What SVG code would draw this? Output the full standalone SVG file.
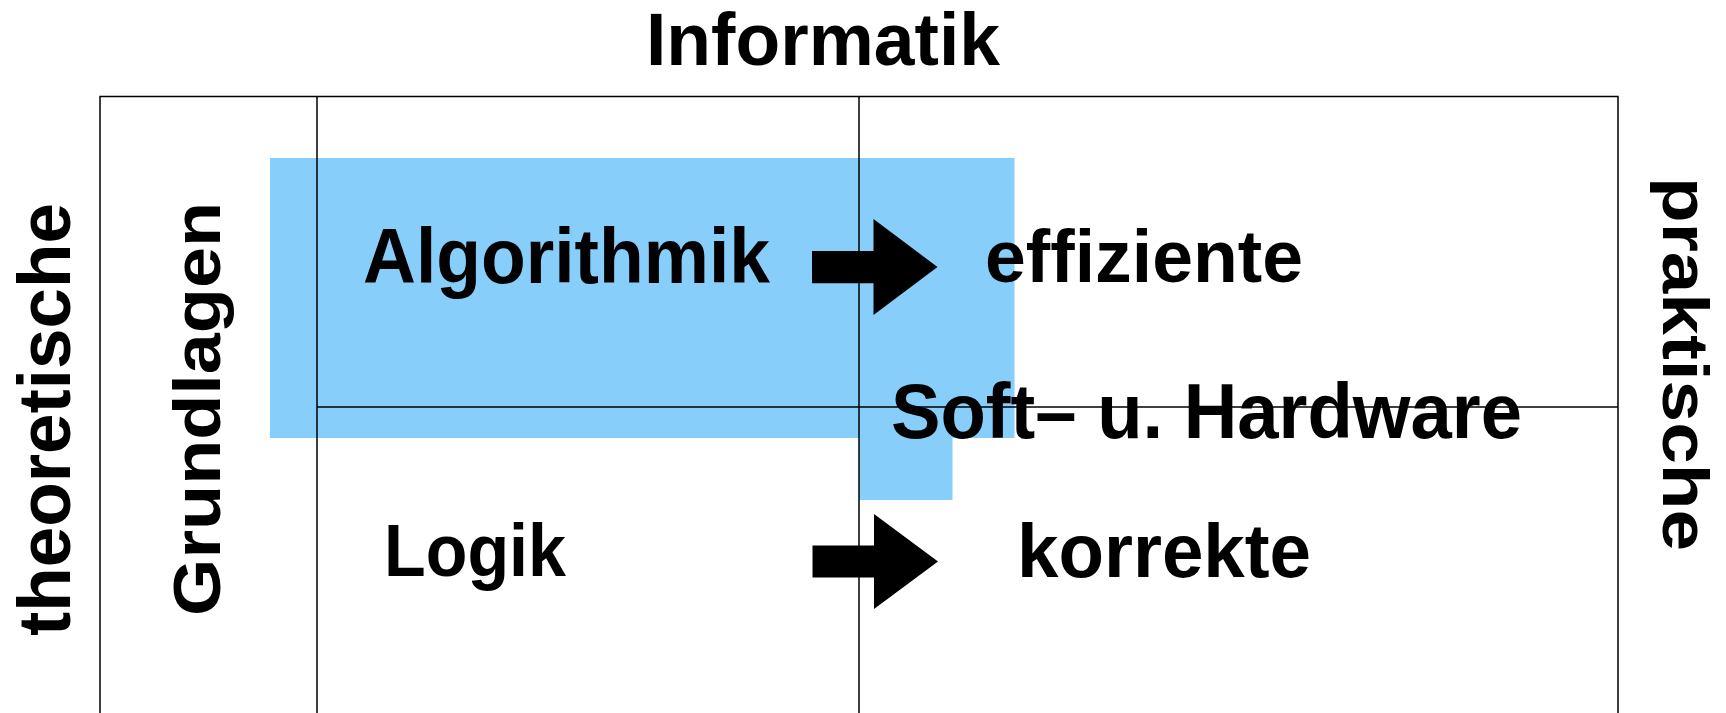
<svg xmlns="http://www.w3.org/2000/svg" width="1726" height="713" viewBox="0 0 1726 713">
<style>
.lbl{font-family:"Liberation Sans",Arial,sans-serif;font-weight:bold;fill:#000}
.ln{stroke:#000;stroke-width:1.5;fill:none}
.arr{fill:#000}
</style>
<rect x="0" y="0" width="1726" height="713" fill="#fff"/>
<g id="highlight">
<polygon points="270,158 1014.5,158 1014.5,438 952.5,438 952.5,500 859,500 859,438 270,438" fill="#87CEFA"/>
</g>
<g id="grid">
<path class="ln" d="M100,714 V96.5 H1618 V714"/>
<path class="ln" d="M317,96.5 V714 M859,96.5 V714 M317,407 H1618"/>
</g>
<g id="title"><text class="lbl" x="646" y="65" font-size="74" textLength="354" lengthAdjust="spacingAndGlyphs">Informatik</text></g>
<g id="theoretische"><text class="lbl" transform="translate(70,636) rotate(-90)" font-size="75" textLength="433" lengthAdjust="spacingAndGlyphs">theoretische</text></g>
<g id="grundlagen"><text class="lbl" transform="translate(220,616) rotate(-90)" font-size="67" textLength="414" lengthAdjust="spacingAndGlyphs">Grundlagen</text></g>
<g id="praktische"><text class="lbl" transform="translate(1663,177) rotate(90)" font-size="65" textLength="374" lengthAdjust="spacingAndGlyphs">praktische</text></g>
<g id="algorithmik"><text class="lbl" x="363" y="283.3" font-size="77" textLength="407" lengthAdjust="spacingAndGlyphs">Algorithmik</text></g>
<g id="effiziente"><text class="lbl" x="985" y="282" font-size="74" textLength="318" lengthAdjust="spacingAndGlyphs">effiziente</text></g>
<g id="softhardware"><text class="lbl" x="891" y="437.7" font-size="77" textLength="631" lengthAdjust="spacingAndGlyphs">Soft– u. Hardware</text></g>
<g id="logik"><text class="lbl" x="384" y="576" font-size="74" textLength="182" lengthAdjust="spacingAndGlyphs">Logik</text></g>
<g id="korrekte"><text class="lbl" x="1017" y="577.3" font-size="76" textLength="294" lengthAdjust="spacingAndGlyphs">korrekte</text></g>
<g id="connectors">
<polygon class="arr" points="812,251 873.5,251 873.5,219 937.5,267 873.5,315 873.5,283.3 812,283.3"/>
<polygon class="arr" points="812.5,545.5 874,545.5 874,514 938,561.5 874,609 874,577.5 812.5,577.5"/>
</g>
</svg>
